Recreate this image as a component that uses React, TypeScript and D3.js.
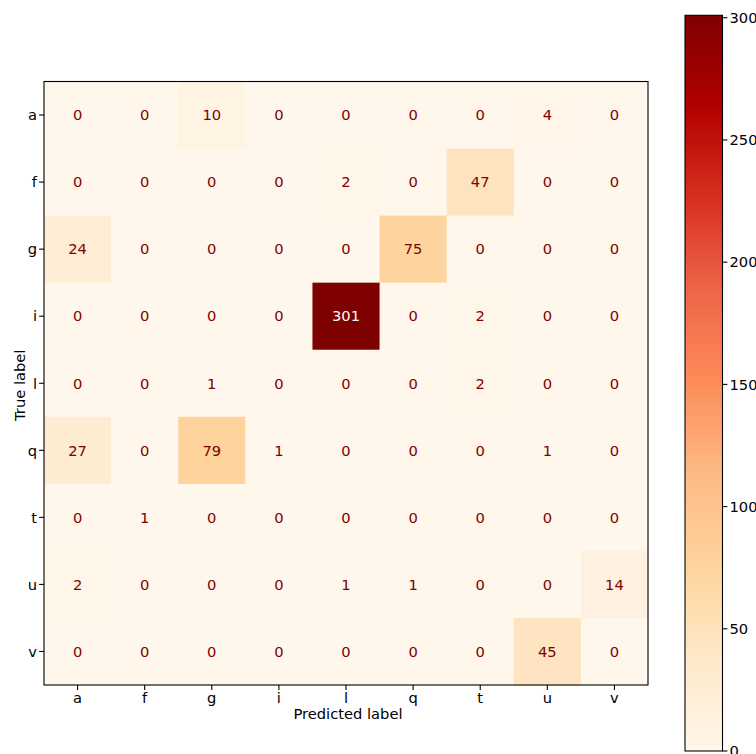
import React from "react";
import * as d3 from "d3";

const labels = ["a", "f", "g", "i", "l", "q", "t", "u", "v"];
const rowA = [0, 0, 10, 0, 0, 0, 0, 4, 0];
const rowF = [0, 0, 0, 0, 2, 0, 47, 0, 0];
const rowG = [24, 0, 0, 0, 0, 75, 0, 0, 0];
const rowI = [0, 0, 0, 0, 301, 0, 2, 0, 0];
const rowL = [0, 0, 1, 0, 0, 0, 2, 0, 0];
const rowQ = [27, 0, 79, 1, 0, 0, 0, 1, 0];
const rowT = [0, 1, 0, 0, 0, 0, 0, 0, 0];
const rowU = [2, 0, 0, 0, 1, 1, 0, 0, 14];
const rowV = [0, 0, 0, 0, 0, 0, 0, 45, 0];
const matrix = [rowA, rowF, rowG, rowI, rowL, rowQ, rowT, rowU, rowV];
const cbTicks = [0, 50, 100, 150, 200, 250, 300];

const orrd = ["#fff7ec", "#fee8c8", "#fdd49e", "#fdbb84", "#fc8d59", "#ef6548", "#d7301f", "#b30000", "#7f0000"];

export default function App() {
  const W = 756, H = 754;
  const left = 44, right = 648, top = 81.5, bottom = 685;
  const vmin = 0, vmax = 301;
  const fs = 14.7;
  const x = d3.scaleBand<string>().domain(labels).range([left, right]);
  const y = d3.scaleBand<string>().domain(labels).range([top, bottom]);
  const t = d3.scaleLinear().domain(d3.range(9).map((i) => i / 8)).range(orrd as any).interpolate(d3.interpolateRgb as any);
  const color = (v: number) => (t as any)((v - vmin) / (vmax - vmin)) as string;
  const thresh = (vmax + vmin) / 2;
  const cbX0 = 685, cbX1 = 722.5, cbTop = 15.3, cbBot = 751;
  const cbY = d3.scaleLinear().domain([vmin, vmax]).range([cbBot, cbTop]);
  const font = "DejaVu Sans, sans-serif";
  const stops = d3.range(0, 1.0001, 1 / 32);

  return (
    <svg width={W} height={H} style={{ position: "absolute", left: 0, top: 0, background: "white" }} fontFamily={font}>
      <defs>
        <linearGradient id="cbgrad" x1="0" y1="1" x2="0" y2="0">
          {stops.map((s, i) => (
            <stop key={i} offset={s} stopColor={(t as any)(s)} />
          ))}
        </linearGradient>
      </defs>
      {matrix.map((row, ri) =>
        row.map((v, ci) => (
          <rect key={`${ri}-${ci}`} x={x(labels[ci])} y={y(labels[ri])} width={x.bandwidth() + 0.5} height={y.bandwidth() + 0.5} fill={color(v)} />
        ))
      )}
      {matrix.map((row, ri) =>
        row.map((v, ci) => (
          <text key={`t${ri}-${ci}`} x={(x(labels[ci]) as number) + x.bandwidth() / 2} y={(y(labels[ri]) as number) + y.bandwidth() / 2} dy="0.36em" textAnchor="middle" fontSize={fs} fill={v < thresh ? orrd[8] : orrd[0]}>
            {v}
          </text>
        ))
      )}
      <rect x={left} y={top} width={right - left} height={bottom - top} fill="none" stroke="black" strokeWidth={1.1} />
      {labels.map((l) => {
        const cx = (x(l) as number) + x.bandwidth() / 2;
        return (
          <g key={"x" + l}>
            <line x1={cx} x2={cx} y1={bottom} y2={bottom + 4.9} stroke="black" strokeWidth={1.1} />
            <text x={cx} y={bottom + 17.5} textAnchor="middle" fontSize={fs}>{l}</text>
          </g>
        );
      })}
      {labels.map((l) => {
        const cy = (y(l) as number) + y.bandwidth() / 2;
        return (
          <g key={"y" + l}>
            <line x1={left - 4.9} x2={left} y1={cy} y2={cy} stroke="black" strokeWidth={1.1} />
            <text x={left - 7} y={cy} dy="0.36em" textAnchor="end" fontSize={fs}>{l}</text>
          </g>
        );
      })}
      <text x={(left + right) / 2 + 2} y={719} textAnchor="middle" fontSize={fs}>Predicted label</text>
      <text transform={`translate(24.5,${(top + bottom) / 2 + 2}) rotate(-90)`} textAnchor="middle" fontSize={fs}>True label</text>
      <rect x={cbX0} y={cbTop} width={cbX1 - cbX0} height={cbBot - cbTop} fill="url(#cbgrad)" stroke="black" strokeWidth={1.1} />
      {cbTicks.map((v) => (
        <g key={"cb" + v}>
          <line x1={cbX1} x2={cbX1 + 4.9} y1={cbY(v)} y2={cbY(v)} stroke="black" strokeWidth={1.1} />
          <text x={cbX1 + 7} y={cbY(v)} dy="0.36em" fontSize={fs}>{v}</text>
        </g>
      ))}
    </svg>
  );
}
